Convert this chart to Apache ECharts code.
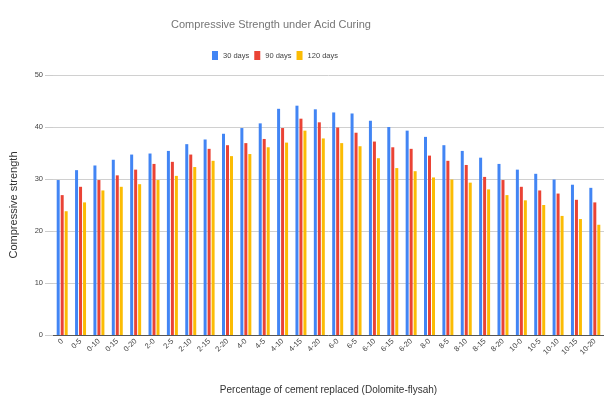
<!DOCTYPE html>
<html>
<head>
<meta charset="utf-8">
<script src="https://cdn.jsdelivr.net/npm/echarts@6/dist/echarts.min.js"></script>
<style>html,body{margin:0;padding:0;background:#fff}#c{width:604px;height:400px}</style>
</head>
<body>
<div id="c"></div>
<script>
const categories = ['0','0-5','0-10','0-15','0-20','2-0','2-5','2-10','2-15','2-20','4-0','4-5','4-10','4-15','4-20','6-0','6-5','6-10','6-15','6-20','8-0','8-5','8-10','8-15','8-20','10-0','10-5','10-10','10-15','10-20'];
const days30 = [29.8,31.7,32.6,33.7,34.7,34.9,35.4,36.7,37.6,38.7,39.8,40.7,43.5,44.1,43.4,42.8,42.6,41.2,40.0,39.3,38.1,36.5,35.4,34.1,32.9,31.8,31.0,29.9,28.9,28.3];
const days90 = [26.9,28.5,29.8,30.7,31.8,32.9,33.3,34.7,35.8,36.5,36.9,37.7,39.8,41.6,40.9,39.9,38.9,37.2,36.1,35.8,34.5,33.5,32.7,30.4,29.8,28.5,27.8,27.2,26.0,25.5];
const days120 = [23.8,25.5,27.8,28.5,29.0,29.8,30.6,32.3,33.5,34.4,34.8,36.1,37.0,39.3,37.8,36.9,36.3,34.0,32.1,31.5,30.3,29.9,29.3,28.0,26.9,25.9,25.0,22.9,22.3,21.2];
const yTicks = [0,10,20,30,40,50];

const font = '"Liberation Sans", Arial, sans-serif';
const chart = echarts.init(document.getElementById('c'), null, {renderer:'canvas'});
const mk = (name, data, color) => ({
  name, type:'bar', data, barWidth:3, barGap:'33%',
  itemStyle:{color}, emphasis:{disabled:true}
});
chart.setOption({
  animation:false,
  backgroundColor:'#fff',
  title:{
    text:'Compressive Strength under Acid Curing',
    left:266, top:14, textAlign:'center',
    textStyle:{fontFamily:font, fontSize:11, fontWeight:'normal', color:'#757575'}
  },
  legend:{
    left:207, top:46, itemWidth:6, itemHeight:9, itemGap:5,
    icon:'rect',
    textStyle:{fontFamily:font, fontSize:7.5, color:'#444'},
    data:['30 days','90 days','120 days']
  },
  grid:{left:51, right:0, top:75, bottom:64, containLabel:false},
  xAxis:{
    type:'category', data:categories,
    name:'Percentage of cement replaced (Dolomite-flysah)',
    nameLocation:'middle', nameGap:50,
    nameTextStyle:{fontFamily:font, fontSize:10, color:'#333'},
    axisLine:{lineStyle:{color:'#555', width:1}},
    axisTick:{show:false},
    axisLabel:{interval:0, rotate:45, fontFamily:font, fontSize:7.5, color:'#444', margin:5}
  },
  yAxis:{
    type:'value', min:yTicks[0], max:yTicks[yTicks.length-1], interval:10,
    name:'Compressive strength',
    nameLocation:'middle', nameGap:34,
    nameTextStyle:{fontFamily:font, fontSize:11, color:'#333'},
    axisLine:{show:false},
    axisTick:{show:true, length:8, lineStyle:{color:'#ccc'}},
    axisLabel:{fontFamily:font, fontSize:7.5, color:'#444', margin:10},
    splitLine:{lineStyle:{color:'#d0d0d0'}}
  },
  series:[
    mk('30 days', days30, '#4285F4'),
    mk('90 days', days90, '#EA4335'),
    mk('120 days', days120, '#FBBC04')
  ]
});
</script>
</body>
</html>
